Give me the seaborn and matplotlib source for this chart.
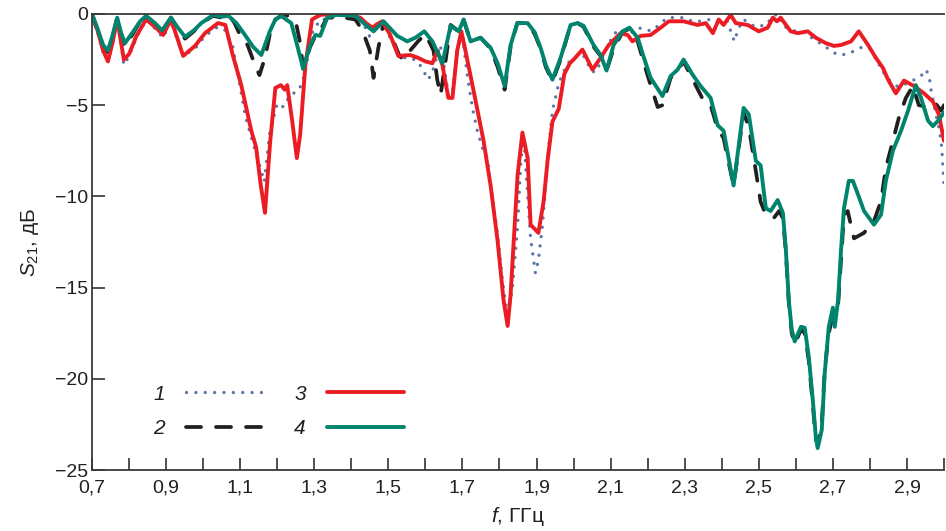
import matplotlib
matplotlib.use("Agg")
import matplotlib.pyplot as plt
import seaborn as sns
import numpy as np
import pandas as pd
from matplotlib.ticker import MultipleLocator, FuncFormatter

# ---------------- data ----------------
f1 = [0.700, 0.715, 0.730, 0.743, 0.755, 0.768, 0.778, 0.786, 0.800, 0.820, 0.846, 0.870, 0.892, 0.913,
      0.930, 0.946, 0.978, 1.005, 1.040, 1.060, 1.080, 1.100, 1.114, 1.132, 1.154, 1.165, 1.180, 1.200,
      1.217, 1.235, 1.257, 1.267, 1.276, 1.294, 1.316, 1.333, 1.360, 1.400, 1.420, 1.440, 1.451, 1.470,
      1.484, 1.505, 1.532, 1.560, 1.580, 1.594, 1.608, 1.620, 1.640, 1.650, 1.662, 1.673, 1.686, 1.700,
      1.713, 1.727, 1.740, 1.754, 1.767, 1.780, 1.795, 1.808, 1.822, 1.835, 1.849, 1.857, 1.865, 1.876,
      1.884, 1.897, 1.905, 1.916, 1.930, 1.943, 1.960, 1.978, 1.992, 2.020, 2.032, 2.046, 2.059, 2.072,
      2.086, 2.110, 2.135, 2.150, 2.176, 2.195, 2.214, 2.235, 2.254, 2.297, 2.327, 2.350, 2.370, 2.400,
      2.415, 2.434, 2.445, 2.459, 2.490, 2.520, 2.538, 2.552, 2.565, 2.590, 2.620, 2.650, 2.680, 2.713,
      2.740, 2.760, 2.780, 2.800, 2.820, 2.845, 2.876, 2.900, 2.920, 2.938, 2.951, 2.960, 2.965, 2.978,
      2.988, 2.994, 3.000]
s1 = [-0.1, -1.0, -2.1, -2.5, -1.6, -0.3, -1.6, -2.8, -2.3, -1.3, -0.3, -0.8, -1.3, -0.4,
      -1.4, -2.3, -1.9, -1.2, -0.7, -0.9, -1.8, -4.0, -5.6, -6.9, -8.4, -9.2, -6.5, -4.9,
      -5.1, -4.45, -4.2, -3.8, -3.1, -1.05, -0.3, -0.3, -0.05, -0.1, -0.3, -0.8, -1.3, -0.6,
      -0.5, -1.3, -2.4, -2.4, -2.6, -3.1, -3.6, -3.1, -1.7, -2.8, -4.45, -4.3, -1.85, -1.2,
      -3.35, -5.15, -6.4, -7.35, -7.9, -9.9, -12.1, -14.6, -16.7, -15.0, -11.6, -8.3, -6.6, -9.9,
      -12.3, -14.2, -13.5, -11.6, -7.9, -5.3, -3.8, -2.95, -2.5, -2.2, -2.4, -3.1, -3.2, -2.7,
      -2.0, -1.05, -0.9, -1.1, -0.75, -0.9, -0.9, -0.5, -0.2, -0.2, -0.45, -0.35, -0.3, -0.4,
      -0.4, -1.5, -0.8, -0.3, -0.7, -0.6, -0.1, 0.0, -0.65, -0.9, -1.0, -1.4, -1.8, -2.25,
      -2.2, -2.0, -1.8, -1.9, -2.6, -3.5, -4.0, -3.8, -3.6, -3.4, -3.05, -3.4, -4.15, -5.5,
      -6.4, -7.35, -9.3]

f2 = [0.700, 0.715, 0.730, 0.743, 0.755, 0.768, 0.778, 0.789, 0.810, 0.830, 0.846, 0.870, 0.889, 0.913,
      0.930, 0.951, 0.975, 0.995, 1.027, 1.050, 1.068, 1.085, 1.103, 1.120, 1.140, 1.152, 1.167, 1.180,
      1.195, 1.220, 1.250, 1.262, 1.270, 1.289, 1.303, 1.316, 1.335, 1.380, 1.411, 1.430, 1.450, 1.460,
      1.473, 1.487, 1.510, 1.530, 1.541, 1.559, 1.580, 1.600, 1.622, 1.632, 1.641, 1.655, 1.668, 1.690,
      1.703, 1.722, 1.749, 1.776, 1.795, 1.814, 1.830, 1.848, 1.876, 1.895, 1.911, 1.925, 1.943, 1.965,
      1.992, 2.011, 2.027, 2.054, 2.073, 2.089, 2.108, 2.132, 2.151, 2.173, 2.190, 2.208, 2.227, 2.240,
      2.262, 2.281, 2.297, 2.322, 2.352, 2.370, 2.389, 2.405, 2.415, 2.432, 2.459, 2.473, 2.492, 2.505,
      2.519, 2.540, 2.555, 2.565, 2.573, 2.581, 2.589, 2.597, 2.614, 2.624, 2.635, 2.646, 2.654, 2.659,
      2.670, 2.678, 2.689, 2.700, 2.714, 2.722, 2.730, 2.740, 2.757, 2.784, 2.811, 2.830, 2.843, 2.862,
      2.878, 2.897, 2.916, 2.932, 2.946, 2.973, 2.992, 3.000]
s2 = [0.0, -0.9, -1.8, -2.1, -1.3, -0.2, -1.1, -1.8, -1.1, -0.4, -0.1, -0.55, -1.0, -0.2,
      -0.8, -1.35, -0.95, -0.5, -0.1, -0.2, 0.0, -0.5, -1.3, -1.7, -2.8, -3.35, -2.4, -1.1,
      -0.3, 0.0, -0.4, -1.6, -3.0, -1.8, -1.2, -0.9, -0.2, -0.2, -0.3, -0.9, -2.0, -3.5,
      -1.85, -0.5, -1.3, -2.3, -2.5, -2.0, -1.5, -1.1, -2.0, -3.6, -4.45, -2.5, -0.6, -0.95,
      -0.3, -1.5, -1.3, -1.9, -2.9, -4.15, -1.8, -0.5, -0.5, -1.1, -1.9, -2.9, -3.7, -2.5,
      -0.6, -0.5, -0.7, -1.8, -2.3, -3.1, -1.9, -1.0, -0.8, -1.5, -2.7, -3.9, -5.1, -5.0,
      -3.5, -3.1, -2.6, -3.6, -4.8, -5.0, -6.3, -6.8, -7.8, -9.4, -5.4, -6.2, -8.6, -10.3,
      -11.0, -11.2, -10.8, -11.2, -13.0, -15.8, -17.5, -18.1, -17.3, -17.5, -19.0, -21.5, -23.3, -23.6,
      -22.5, -19.5, -17.5, -16.5, -16.0, -13.5, -11.0, -10.8, -12.3, -12.0, -11.35, -10.25, -8.45, -6.95,
      -5.7, -4.6, -3.95, -5.0, -5.05, -4.8, -5.3, -5.0]

f3 = [0.700, 0.715, 0.730, 0.743, 0.755, 0.768, 0.778, 0.786, 0.800, 0.820, 0.846, 0.870, 0.892, 0.913,
      0.930, 0.946, 0.978, 1.005, 1.040, 1.060, 1.080, 1.103, 1.130, 1.143, 1.155, 1.167, 1.181, 1.195,
      1.210, 1.220, 1.227, 1.240, 1.253, 1.262, 1.276, 1.294, 1.316, 1.350, 1.390, 1.424, 1.440, 1.457,
      1.470, 1.484, 1.505, 1.527, 1.559, 1.580, 1.600, 1.619, 1.632, 1.646, 1.662, 1.673, 1.686, 1.697,
      1.708, 1.730, 1.757, 1.776, 1.795, 1.811, 1.822, 1.830, 1.849, 1.862, 1.876, 1.884, 1.905, 1.919,
      1.930, 1.943, 1.960, 1.975, 1.990, 2.000, 2.024, 2.051, 2.073, 2.095, 2.127, 2.146, 2.159, 2.181,
      2.208, 2.235, 2.257, 2.297, 2.335, 2.357, 2.376, 2.392, 2.405, 2.424, 2.438, 2.470, 2.500, 2.524,
      2.538, 2.549, 2.559, 2.586, 2.605, 2.632, 2.654, 2.681, 2.703, 2.722, 2.749, 2.770, 2.795, 2.816,
      2.835, 2.849, 2.870, 2.892, 2.919, 2.946, 2.970, 2.986, 3.000]
s3 = [-0.1, -0.9, -2.0, -2.6, -1.6, -0.3, -1.5, -2.5, -2.2, -1.2, -0.3, -0.7, -1.15, -0.3,
      -1.3, -2.3, -1.75, -1.05, -0.5, -0.6, -2.25, -3.9, -6.4, -7.3, -9.3, -10.9, -7.0, -4.05,
      -3.9, -4.15, -3.9, -5.8, -7.9, -6.6, -2.8, -0.3, -0.05, 0.0, 0.0, -0.2, -0.5, -0.75,
      -0.55, -0.4, -1.15, -2.3, -2.25, -2.4, -2.6, -2.7, -2.0, -2.8, -4.6, -4.6, -2.0, -0.95,
      -2.0, -4.2, -6.95, -9.4, -12.45, -15.7, -17.1, -15.4, -8.8, -6.5, -7.9, -11.55, -12.0, -10.3,
      -8.0, -5.9, -5.2, -3.3, -2.7, -2.5, -1.95, -3.05, -2.4, -1.7, -1.05, -1.15, -1.5, -1.2,
      -1.15, -0.75, -0.4, -0.4, -0.6, -0.5, -1.05, -0.3, -0.6, -0.05, -0.5, -0.6, -0.95, -0.75,
      -0.2, -0.4, -0.2, -0.95, -1.05, -0.95, -1.3, -1.6, -1.75, -1.7, -1.5, -0.95, -1.7, -2.4,
      -2.95, -3.6, -4.35, -3.65, -3.95, -4.35, -4.8, -5.5, -6.95]

f4 = [0.700, 0.715, 0.730, 0.743, 0.755, 0.768, 0.778, 0.789, 0.810, 0.830, 0.846, 0.870, 0.889, 0.913,
      0.930, 0.951, 0.975, 0.995, 1.027, 1.050, 1.068, 1.090, 1.113, 1.135, 1.157, 1.180, 1.195, 1.210,
      1.238, 1.255, 1.270, 1.289, 1.303, 1.316, 1.335, 1.360, 1.411, 1.433, 1.460, 1.487, 1.524, 1.551,
      1.573, 1.597, 1.619, 1.646, 1.668, 1.690, 1.703, 1.722, 1.749, 1.776, 1.795, 1.814, 1.830, 1.848,
      1.876, 1.895, 1.911, 1.925, 1.943, 1.965, 1.992, 2.011, 2.027, 2.054, 2.073, 2.089, 2.108, 2.132,
      2.151, 2.173, 2.190, 2.208, 2.240, 2.262, 2.281, 2.297, 2.322, 2.343, 2.370, 2.389, 2.405, 2.415,
      2.432, 2.459, 2.473, 2.492, 2.505, 2.519, 2.532, 2.551, 2.565, 2.573, 2.581, 2.589, 2.597, 2.614,
      2.624, 2.635, 2.646, 2.654, 2.659, 2.670, 2.678, 2.689, 2.700, 2.705, 2.714, 2.722, 2.730, 2.743,
      2.754, 2.768, 2.784, 2.811, 2.830, 2.843, 2.862, 2.884, 2.903, 2.924, 2.938, 2.957, 2.970, 2.984,
      3.000]
s4 = [0.0, -0.8, -1.7, -2.0, -1.2, -0.2, -1.0, -1.6, -1.0, -0.4, -0.1, -0.5, -0.9, -0.2,
      -0.7, -1.25, -0.9, -0.5, -0.05, -0.15, -0.1, -0.5, -1.15, -1.8, -2.25, -0.95, -0.3, -0.1,
      -0.5, -1.8, -3.0, -1.7, -1.15, -1.2, -0.2, -0.05, -0.1, -0.5, -0.95, -0.4, -1.2, -1.5,
      -1.3, -0.95, -1.5, -2.7, -0.65, -0.95, -0.3, -1.5, -1.3, -1.85, -2.7, -3.95, -1.7, -0.5,
      -0.5, -1.0, -1.85, -2.8, -3.6, -2.4, -0.6, -0.5, -0.65, -1.7, -2.25, -3.1, -1.7, -0.95,
      -0.75, -1.3, -2.4, -3.5, -4.5, -3.4, -3.05, -2.5, -3.35, -3.95, -4.6, -6.1, -6.4, -7.5,
      -9.4, -5.15, -5.5, -8.05, -8.3, -10.65, -10.8, -10.2, -10.9, -12.9, -15.7, -17.3, -17.95, -17.15,
      -17.2, -18.8, -21.2, -23.2, -23.8, -22.8, -19.7, -17.15, -16.1, -17.15, -15.7, -12.95, -10.65, -9.15,
      -9.15, -9.9, -10.8, -11.55, -11.0, -9.15, -7.5, -6.4, -5.3, -3.9, -4.6, -5.85, -6.15, -5.85,
      -5.4]

series_labels = ["1", "2", "3", "4"]
x_ticks = [0.7, 0.9, 1.1, 1.3, 1.5, 1.7, 1.9, 2.1, 2.3, 2.5, 2.7, 2.9]
y_ticks = [0, -5, -10, -15, -20, -25]

# ---------------- style ----------------
sns.set_theme(style="ticks")
plt.rcParams["font.family"] = ["Liberation Sans", "DejaVu Sans"]
plt.rcParams["mathtext.fontset"] = "custom"
plt.rcParams["mathtext.it"] = "Liberation Sans:italic"
plt.rcParams["mathtext.rm"] = "Liberation Sans"

ink = "#231f20"
c_dot = "#5b76a8"
c_dash = "#231f20"
c_red = "#ec1c24"
c_teal = "#00846d"

fig = plt.figure(figsize=(9.46, 5.31), dpi=100)
ax = fig.add_axes([92 / 946, 61 / 531, 852 / 946, 456 / 531])

sns.lineplot(x=f1, y=s1, ax=ax, color=c_dot, lw=2.4, linestyle=(0, (0.01, 2.8)),
             dash_capstyle="round", label=series_labels[0], sort=False)
sns.lineplot(x=f2, y=s2, ax=ax, color=c_dash, lw=2.7, linestyle=(0, (4.0, 4.0)),
             dash_capstyle="round", label=series_labels[1], sort=False)
sns.lineplot(x=f3, y=s3, ax=ax, color=c_red, lw=2.8, label=series_labels[2], sort=False,
             solid_joinstyle="round", solid_capstyle="round")
sns.lineplot(x=f4, y=s4, ax=ax, color=c_teal, lw=2.8, label=series_labels[3], sort=False,
             solid_joinstyle="round", solid_capstyle="round")

ax.set_xlim(0.7, 3.0)
ax.set_ylim(-25, 0)

ax.xaxis.set_major_locator(MultipleLocator(0.2))
ax.xaxis.set_minor_locator(MultipleLocator(0.1))
ax.set_xticks(x_ticks)
ax.set_yticks(y_ticks)
ax.xaxis.set_major_formatter(FuncFormatter(lambda v, p: f"{v:.1f}".replace(".", ",")))
ax.yaxis.set_major_formatter(FuncFormatter(lambda v, p: f"{v:g}".replace("-", "\u2212")))

ax.tick_params(axis="both", which="both", direction="in", length=9, width=1.1, color=ink,
               labelsize=14, labelcolor=ink)
ax.tick_params(axis="x", which="both", pad=7)
ax.tick_params(axis="y", which="both", pad=3)

for side in ["left", "bottom", "top"]:
    ax.spines[side].set_visible(True)
    ax.spines[side].set_color("#3a3a3a")
    ax.spines[side].set_linewidth(1.3)
ax.spines["right"].set_visible(False)

ax.set_xlabel(r"$f$, ГГц", fontsize=15, color=ink, labelpad=6)
ax.set_ylabel(r"$S_{\mathrm{21}}$, дБ", fontsize=15, color=ink, labelpad=10)

leg = ax.legend(loc="upper left", bbox_to_anchor=(0.072, 0.187), ncol=2, frameon=False,
                markerfirst=False, prop={"style": "italic", "size": 15},
                handlelength=3.7, handletextpad=1.0, columnspacing=1.5, labelspacing=0.75,
                borderpad=0, borderaxespad=0)
for t in leg.get_texts():
    t.set_color(ink)

fig.savefig("out.png", dpi=100)
